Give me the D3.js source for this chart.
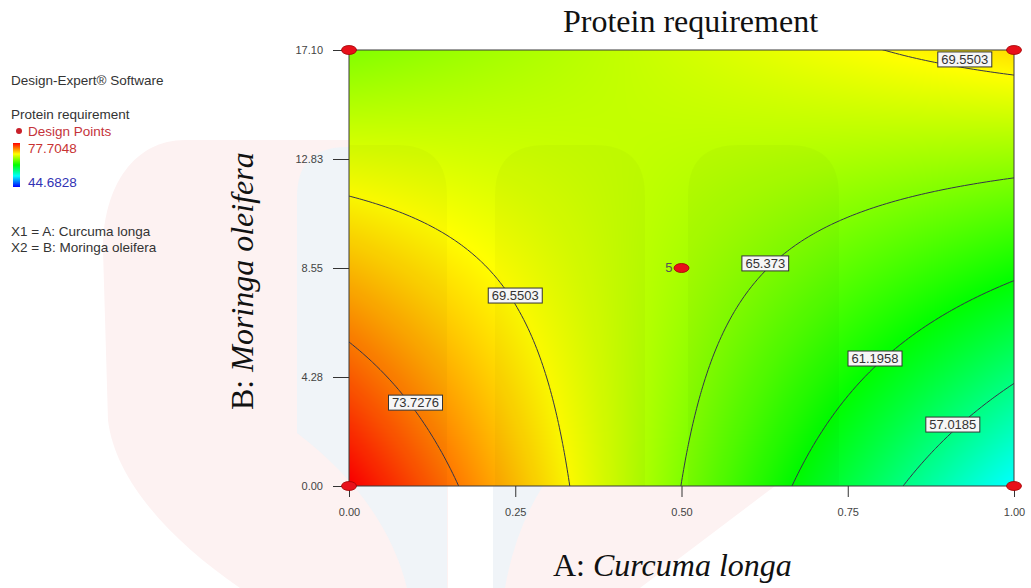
<!DOCTYPE html>
<html>
<head>
<meta charset="utf-8">
<script src="https://cdn.jsdelivr.net/npm/d3@7"></script>
<style>
    body { margin: 0; background: #fff; }
    svg { display: block; }
</style>
</head>
<body>
<div id="chart"></div>
<script>
// factor settings on the axes
const aTicks = [0, 0.25, 0.5, 0.75, 1];
const bTicks = [0, 4.275, 8.55, 12.825, 17.1];
const aTickLabels = ["0.00", "0.25", "0.50", "0.75", "1.00"];
const bTickLabels = ["0.00", "4.28", "8.55", "12.83", "17.10"];

// protein requirement (rows = B ticks, columns = A ticks)
const surface = [
    [77.85, 71.60, 65.35, 59.10, 52.85],
    [74.73, 70.37, 66.01, 61.64, 57.28],
    [71.61, 69.14, 66.66, 64.19, 61.71],
    [68.49, 67.90, 67.31, 66.73, 66.14],
    [65.37, 66.67, 67.97, 69.27, 70.57]
];

const contourLevels = [73.7276, 69.5503, 65.373, 61.1958, 57.0185];
const levelLabels = ["73.7276", "69.5503", "65.373", "61.1958", "57.0185"];

// where each contour label sits: [A, B, level index]
const labelSpots = [
    [0.100, 3.27, 0],
    [0.250, 7.47, 1],
    [0.926, 16.73, 1],
    [0.626, 8.73, 2],
    [0.791, 5.00, 3],
    [0.908, 2.41, 4]
];

// design points: [A, B, replicates]
const designPoints = [[0, 0, 1], [0, 17.1, 1], [1, 0, 1], [1, 17.1, 1], [0.5, 8.55, 5]];
const valueRange = [44.6828, 77.7048];

const W = 1031, H = 588;
const plot = { left: 349, top: 50, right: 1014, bottom: 486 };
const sans = "'Liberation Sans', Arial, sans-serif";
const serif = "'Liberation Serif', 'Times New Roman', serif";

const svg = d3.select("#chart").append("svg")
    .attr("width", W)
    .attr("height", H)
    .style("font-family", sans);

const x = d3.scaleLinear().domain([aTicks[0], aTicks[aTicks.length - 1]]).range([plot.left, plot.right]);
const y = d3.scaleLinear().domain([bTicks[0], bTicks[bTicks.length - 1]]).range([plot.bottom, plot.top]);

const colorStops = d3.quantize(d3.interpolateNumber(valueRange[0], valueRange[1]), 5);
const color = d3.scaleLinear()
    .domain(colorStops)
    .range(["#0000ff", "#00ffff", "#00ff00", "#ffff00", "#ff0000"])
    .clamp(true);

// bilinear read of the surface table (extends past the edges too)
function surfaceAt(a, b) {
    let i = Math.min(Math.max(d3.bisectRight(aTicks, a) - 1, 0), aTicks.length - 2);
    let j = Math.min(Math.max(d3.bisectRight(bTicks, b) - 1, 0), bTicks.length - 2);
    let ta = (a - aTicks[i]) / (aTicks[i + 1] - aTicks[i]);
    let tb = (b - bTicks[j]) / (bTicks[j + 1] - bTicks[j]);
    return surface[j][i] * (1 - ta) * (1 - tb) + surface[j][i + 1] * ta * (1 - tb)
        + surface[j + 1][i] * (1 - ta) * tb + surface[j + 1][i + 1] * ta * tb;
}

function arch(x0, x1, top, bottom, r) {
    return `M${x0},${bottom} L${x0},${top + r} Q${x0},${top} ${x0 + r},${top} L${x1 - r},${top} Q${x1},${top} ${x1},${top + r} L${x1},${bottom} Z`;
}

// faint logo watermark behind the chart
const wm = svg.append("g");
wm.append("path")
    .attr("d", "M103,250 C103,185 135,140 185,140 L349,140 L349,486 L775,486 L640,588 L240,588 C170,540 115,480 108,420 Z")
    .attr("fill", "#fdf2f2");
wm.append("path")
    .attr("d", "M297,433 L297,197 Q297,147 347,147 L397,147 Q447,147 447,197 L447,588 L407,588 Q385,500 297,433 Z")
    .attr("fill", "#f0f4f8");
wm.append("rect").attr("x", 448).attr("y", 486).attr("width", 45).attr("height", 102).attr("fill", "#fff");
wm.append("path")
    .attr("d", "M493,486 L543,486 Q515,530 505,588 L493,588 Z")
    .attr("fill", "#f0f4f8");

// colour field
const pw = plot.right - plot.left, ph = plot.bottom - plot.top;
const canvas = document.createElement("canvas");
canvas.width = pw;
canvas.height = ph;
const ctx = canvas.getContext("2d");
const img = ctx.createImageData(pw, ph);
for (let py = 0; py < ph; py++) {
    let b = y.invert(plot.top + py + 0.5);
    for (let px = 0; px < pw; px++) {
        let a = x.invert(plot.left + px + 0.5);
        let c = d3.rgb(color(surfaceAt(a, b)));
        let k = (py * pw + px) * 4;
        img.data[k] = c.r;
        img.data[k + 1] = c.g;
        img.data[k + 2] = c.b;
        img.data[k + 3] = 255;
    }
}
ctx.putImageData(img, 0, 0);

svg.append("clipPath").attr("id", "plot-clip")
    .append("rect")
    .attr("x", plot.left).attr("y", plot.top)
    .attr("width", pw).attr("height", ph);

const chart = svg.append("g").attr("clip-path", "url(#plot-clip)");

chart.append("image")
    .attr("x", plot.left).attr("y", plot.top)
    .attr("width", pw).attr("height", ph)
    .attr("preserveAspectRatio", "none")
    .attr("href", canvas.toDataURL());

// watermark tint showing through the plot
chart.selectAll(".tint")
    .data([[297, 447], [495, 645], [688, 839]])
    .enter()
    .append("path")
    .attr("d", d => arch(d[0], d[1], 145, plot.bottom, 50))
    .attr("fill", "#000")
    .attr("opacity", 0.025);

// contour lines
const nx = 160, ny = 110;
const aExt = [-0.02, 1.02], bExt = [-0.4, 17.5];
const values = new Array(nx * ny);
for (let j = 0; j < ny; j++) {
    let b = bExt[0] + (j + 0.5) * (bExt[1] - bExt[0]) / ny;
    for (let i = 0; i < nx; i++) {
        let a = aExt[0] + (i + 0.5) * (aExt[1] - aExt[0]) / nx;
        values[j * nx + i] = surfaceAt(a, b);
    }
}
const contours = d3.contours().size([nx, ny]).thresholds(contourLevels)(values);
const gridPath = d3.geoPath(d3.geoTransform({
    point: function (gx, gy) {
        this.stream.point(
            x(aExt[0] + gx * (aExt[1] - aExt[0]) / nx),
            y(bExt[0] + gy * (bExt[1] - bExt[0]) / ny)
        );
    }
}));
chart.selectAll(".contour")
    .data(contours)
    .enter()
    .append("path")
    .attr("d", gridPath)
    .attr("fill", "none")
    .attr("stroke", "#34344a")
    .attr("stroke-width", 1);

// contour labels
const lab = svg.append("g").style("font-size", "13px");
labelSpots.forEach(d => {
    let g = lab.append("g").attr("transform", `translate(${x(d[0])},${y(d[1])})`);
    let t = g.append("text")
        .attr("text-anchor", "middle")
        .attr("dy", "0.36em")
        .attr("fill", "#333")
        .text(levelLabels[d[2]]);
    let w = t.node().getComputedTextLength() + 7;
    g.insert("rect", "text")
        .attr("x", -w / 2).attr("y", -7.5)
        .attr("width", w).attr("height", 15)
        .attr("fill", "#f6f6f6")
        .attr("stroke", "#333")
        .attr("stroke-width", 1);
});

// frame
svg.append("rect")
    .attr("x", plot.left).attr("y", plot.top)
    .attr("width", pw).attr("height", ph)
    .attr("fill", "none")
    .attr("stroke", "#3a3a3a")
    .attr("stroke-width", 1);

// axes
const xAxis = svg.append("g")
    .attr("transform", `translate(0,${plot.bottom})`)
    .call(d3.axisBottom(x).tickValues(aTicks).tickFormat((d, i) => aTickLabels[i]).tickSize(11).tickSizeOuter(0).tickPadding(11));
const yAxis = svg.append("g")
    .attr("transform", `translate(${plot.left},0)`)
    .call(d3.axisLeft(y).tickValues(bTicks).tickFormat((d, i) => bTickLabels[i]).tickSize(16).tickSizeOuter(0).tickPadding(10));
[xAxis, yAxis].forEach(ax => {
    ax.select(".domain").remove();
    ax.selectAll(".tick line").attr("stroke", "#333");
    ax.selectAll(".tick text").attr("fill", "#444").style("font-size", "11px").style("font-family", sans);
});

// design points
svg.selectAll(".dp")
    .data(designPoints)
    .enter()
    .append("ellipse")
    .attr("cx", d => x(d[0]))
    .attr("cy", d => y(d[1]))
    .attr("rx", 7.5)
    .attr("ry", 4.5)
    .attr("fill", "#e8101a")
    .attr("stroke", "#a00000")
    .attr("stroke-width", 0.8);

svg.selectAll(".dp-count")
    .data(designPoints.filter(d => d[2] > 1))
    .enter()
    .append("text")
    .attr("x", d => x(d[0]) - 9)
    .attr("y", d => y(d[1]) + 4)
    .attr("text-anchor", "end")
    .style("font-size", "13px")
    .attr("fill", "#555")
    .text(d => d[2]);

// titles
svg.append("text")
    .attr("x", 563).attr("y", 32)
    .style("font-family", serif)
    .style("font-size", "32px")
    .attr("fill", "#111")
    .text("Protein requirement");

const xt = svg.append("text")
    .attr("x", 553).attr("y", 576)
    .style("font-family", serif)
    .style("font-size", "32px")
    .attr("fill", "#111");
xt.append("tspan").text("A: ");
xt.append("tspan").style("font-style", "italic").text("Curcuma longa");

const yt = svg.append("text")
    .attr("transform", "translate(253,410) rotate(-90)")
    .style("font-family", serif)
    .style("font-size", "32px")
    .attr("fill", "#111");
yt.append("tspan").text("B: ");
yt.append("tspan").style("font-style", "italic").text("Moringa oleifera");

// side legend
const leg = svg.append("g").style("font-size", "13.5px");
leg.append("text").attr("x", 11).attr("y", 85).attr("fill", "#333").text("Design-Expert\u00ae Software");
leg.append("text").attr("x", 11).attr("y", 119).attr("fill", "#333").text("Protein requirement");
leg.append("circle").attr("cx", 19).attr("cy", 131).attr("r", 3).attr("fill", "#c8202a");
leg.append("text").attr("x", 28).attr("y", 136).attr("fill", "#c4323a").text("Design Points");

const grad = svg.append("defs").append("linearGradient")
    .attr("id", "bar-grad")
    .attr("x1", 0).attr("y1", 1).attr("x2", 0).attr("y2", 0);
colorStops.forEach((v, i) => {
    grad.append("stop").attr("offset", i / (colorStops.length - 1)).attr("stop-color", color(v));
});
leg.append("rect").attr("x", 13).attr("y", 143).attr("width", 7).attr("height", 44).attr("fill", "url(#bar-grad)");
leg.append("text").attr("x", 28).attr("y", 153).attr("fill", "#c83232").text(valueRange[1]);
leg.append("text").attr("x", 28).attr("y", 187).attr("fill", "#3232b4").text(valueRange[0]);
leg.append("text").attr("x", 11).attr("y", 236).attr("fill", "#333").text("X1 = A: Curcuma longa");
leg.append("text").attr("x", 11).attr("y", 252).attr("fill", "#333").text("X2 = B: Moringa oleifera");
</script>
</body>
</html>
